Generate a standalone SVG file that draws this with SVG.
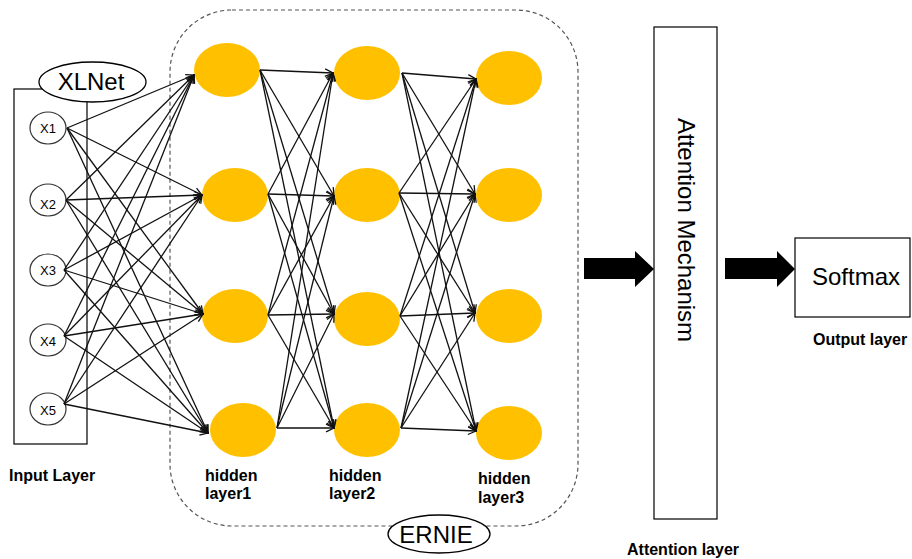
<svg xmlns="http://www.w3.org/2000/svg" width="912" height="559" viewBox="0 0 912 559">
  <style>
    text { font-family: "Liberation Sans", Arial, sans-serif; fill: #000; }
    .lbl { font-size: 16px; font-weight: bold; }
    .big { font-size: 24px; }
    .xin { font-size: 13px; text-anchor: middle; }
    .inp { fill: #fff; stroke: #333; stroke-width: 1.2; }
    .hid { fill: #FFC000; stroke: none; }
    .tag { fill: #fff; stroke: #000; stroke-width: 1.3; }
    .box { fill: #fff; stroke: #000; stroke-width: 1.2; }
    .edge line { stroke: #111; stroke-width: 1.3; marker-end: url(#open); }
    .blk { fill: #000; }
  </style>
  <defs>
    <marker id="open" viewBox="0 0 10 10" refX="9" refY="5" markerWidth="10" markerHeight="10" markerUnits="userSpaceOnUse" orient="auto">
      <path d="M1,1.2 L9,5 L1,8.8" fill="none" stroke="#111" stroke-width="1.3"/>
    </marker>
  </defs>

  <rect width="912" height="559" fill="#fff"/>

  <!-- ERNIE container -->
  <g id="ernie-frame">
    <rect x="170" y="10" width="408" height="516" rx="62" ry="62" fill="none" stroke="#555" stroke-width="1.2" stroke-dasharray="4 3"/>
  </g>

  <!-- input layer frame -->
  <g id="input-frame">
    <rect x="14" y="89" width="73" height="355" fill="none" stroke="#000" stroke-width="1.2"/>
  </g>

  <!-- input nodes -->
  <g id="x1"><ellipse class="inp" cx="48" cy="128" rx="18" ry="16"/><text class="xin" x="48" y="133">X1</text></g>
  <g id="x2"><ellipse class="inp" cx="48" cy="200" rx="18" ry="16"/><text class="xin" x="48" y="209">X2</text></g>
  <g id="x3"><ellipse class="inp" cx="48" cy="270" rx="18" ry="16"/><text class="xin" x="48" y="275">X3</text></g>
  <g id="x4"><ellipse class="inp" cx="48" cy="340" rx="18" ry="16"/><text class="xin" x="48" y="346">X4</text></g>
  <g id="x5"><ellipse class="inp" cx="48" cy="409" rx="18" ry="16"/><text class="xin" x="48" y="415">X5</text></g>

  <!-- hidden layer 1 -->
  <g id="h1-1"><ellipse class="hid" cx="227" cy="70" rx="33" ry="27"/></g>
  <g id="h1-2"><ellipse class="hid" cx="235" cy="195" rx="33" ry="27"/></g>
  <g id="h1-3"><ellipse class="hid" cx="235" cy="316" rx="33" ry="27"/></g>
  <g id="h1-4"><ellipse class="hid" cx="243" cy="430" rx="33" ry="27"/></g>
  <!-- hidden layer 2 -->
  <g id="h2-1"><ellipse class="hid" cx="367" cy="73" rx="33" ry="27"/></g>
  <g id="h2-2"><ellipse class="hid" cx="367" cy="195" rx="33" ry="27"/></g>
  <g id="h2-3"><ellipse class="hid" cx="367" cy="319" rx="33" ry="27"/></g>
  <g id="h2-4"><ellipse class="hid" cx="367" cy="430" rx="33" ry="27"/></g>
  <!-- hidden layer 3 -->
  <g id="h3-1"><ellipse class="hid" cx="509" cy="78" rx="33" ry="27"/></g>
  <g id="h3-2"><ellipse class="hid" cx="509" cy="195" rx="33" ry="27"/></g>
  <g id="h3-3"><ellipse class="hid" cx="509" cy="316" rx="33" ry="27"/></g>
  <g id="h3-4"><ellipse class="hid" cx="509" cy="433" rx="33" ry="27"/></g>

  <!-- connectors -->
  <g id="connectors" class="edge">
    <!-- inputs to hidden layer 1 -->
    <line x1="67" y1="128" x2="194" y2="75"/>
    <line x1="67" y1="128" x2="202" y2="195"/>
    <line x1="67" y1="128" x2="203" y2="314"/>
    <line x1="67" y1="128" x2="208" y2="433"/>
    <line x1="66" y1="200" x2="194" y2="75"/>
    <line x1="66" y1="200" x2="202" y2="195"/>
    <line x1="66" y1="200" x2="203" y2="314"/>
    <line x1="66" y1="200" x2="208" y2="433"/>
    <line x1="64" y1="270" x2="194" y2="75"/>
    <line x1="64" y1="270" x2="202" y2="195"/>
    <line x1="64" y1="270" x2="203" y2="314"/>
    <line x1="64" y1="270" x2="208" y2="433"/>
    <line x1="64" y1="336" x2="194" y2="75"/>
    <line x1="64" y1="336" x2="202" y2="195"/>
    <line x1="64" y1="336" x2="203" y2="314"/>
    <line x1="64" y1="336" x2="208" y2="433"/>
    <line x1="64" y1="404" x2="194" y2="75"/>
    <line x1="64" y1="404" x2="202" y2="195"/>
    <line x1="64" y1="404" x2="203" y2="314"/>
    <line x1="64" y1="404" x2="208" y2="433"/>
    <!-- hidden layer 1 to hidden layer 2 -->
    <line x1="260" y1="70" x2="333" y2="73"/>
    <line x1="260" y1="70" x2="334" y2="196"/>
    <line x1="260" y1="70" x2="334" y2="314"/>
    <line x1="260" y1="70" x2="334" y2="428"/>
    <line x1="268" y1="194" x2="333" y2="73"/>
    <line x1="268" y1="194" x2="334" y2="196"/>
    <line x1="268" y1="194" x2="334" y2="314"/>
    <line x1="268" y1="194" x2="334" y2="428"/>
    <line x1="268" y1="315" x2="333" y2="73"/>
    <line x1="268" y1="315" x2="334" y2="196"/>
    <line x1="268" y1="315" x2="334" y2="314"/>
    <line x1="268" y1="315" x2="334" y2="428"/>
    <line x1="277" y1="428" x2="333" y2="73"/>
    <line x1="277" y1="428" x2="334" y2="196"/>
    <line x1="277" y1="428" x2="334" y2="314"/>
    <line x1="277" y1="428" x2="334" y2="428"/>
    <!-- hidden layer 2 to hidden layer 3 -->
    <line x1="402" y1="73" x2="476" y2="79"/>
    <line x1="402" y1="73" x2="475" y2="194"/>
    <line x1="402" y1="73" x2="475" y2="313"/>
    <line x1="402" y1="73" x2="476" y2="431"/>
    <line x1="399" y1="193" x2="476" y2="79"/>
    <line x1="399" y1="193" x2="475" y2="194"/>
    <line x1="399" y1="193" x2="475" y2="313"/>
    <line x1="399" y1="193" x2="476" y2="431"/>
    <line x1="400" y1="316" x2="476" y2="79"/>
    <line x1="400" y1="316" x2="475" y2="194"/>
    <line x1="400" y1="316" x2="475" y2="313"/>
    <line x1="400" y1="316" x2="476" y2="431"/>
    <line x1="401" y1="428" x2="476" y2="79"/>
    <line x1="401" y1="428" x2="475" y2="194"/>
    <line x1="401" y1="428" x2="475" y2="313"/>
    <line x1="401" y1="428" x2="476" y2="431"/>
  </g>

  <!-- block arrows -->
  <g id="flow-arrows">
    <polygon class="blk" points="584,258 635,258 635,251 654,269 635,287 635,279 584,279"/>
    <polygon class="blk" points="725,258 777,258 777,251 795,269 777,287 777,279 725,279"/>
  </g>

  <!-- model tags -->
  <g id="xlnet">
    <ellipse class="tag" cx="92.5" cy="82" rx="53.5" ry="20"/>
    <text class="big" x="91" y="90" text-anchor="middle">XLNet</text>
  </g>
  <g id="ernie">
    <ellipse class="tag" cx="439" cy="534" rx="51" ry="19"/>
    <text class="big" x="436" y="543" text-anchor="middle">ERNIE</text>
  </g>

  <!-- attention block -->
  <g id="attention">
    <rect class="box" x="654" y="27" width="63" height="492"/>
    <text class="big" transform="translate(678,118) rotate(90)" x="0" y="0">Attention Mechanism</text>
  </g>

  <!-- softmax block -->
  <g id="softmax">
    <rect class="box" x="795" y="238" width="115" height="79"/>
    <text class="big" x="812" y="285">Softmax</text>
  </g>

  <!-- layer captions -->
  <g id="captions">
    <text class="lbl" x="9" y="481">Input Layer</text>
    <text class="lbl" x="205" y="481">hidden</text>
    <text class="lbl" x="205" y="499">layer1</text>
    <text class="lbl" x="329" y="481">hidden</text>
    <text class="lbl" x="329" y="499">layer2</text>
    <text class="lbl" x="478" y="484">hidden</text>
    <text class="lbl" x="478" y="503">layer3</text>
    <text class="lbl" x="627" y="555">Attention layer</text>
    <text class="lbl" x="813" y="345">Output layer</text>
  </g>
</svg>
